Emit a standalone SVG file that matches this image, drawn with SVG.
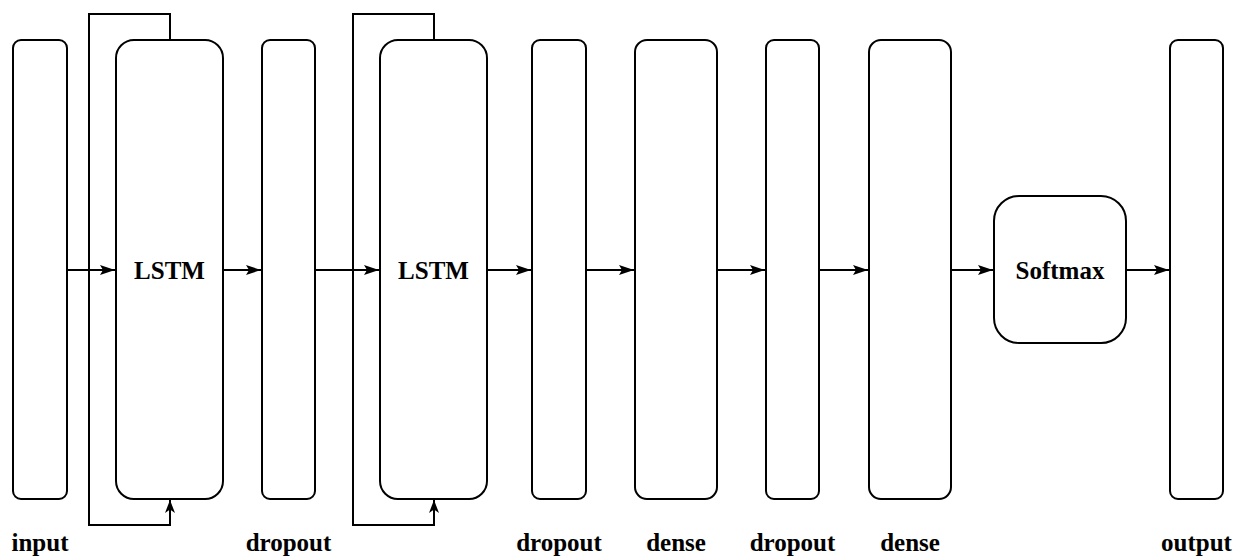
<svg xmlns="http://www.w3.org/2000/svg" width="1249" height="556" viewBox="0 0 1249 556">
<style>
.box{fill:#fff;stroke:#000;stroke-width:2}
.c{fill:none;stroke:#000;stroke-width:2}
.t{font-family:"Liberation Serif","Times New Roman",serif;font-weight:bold;font-size:25px;text-anchor:middle;fill:#000}
</style>
<defs>
<marker id="ah" markerWidth="16" markerHeight="12" refX="15" refY="6" orient="auto" markerUnits="userSpaceOnUse">
<path d="M0,1 L15,6 L0,11 L3,6 Z" fill="#000"/>
</marker>
<marker id="ah2" markerWidth="14" markerHeight="12" refX="13" refY="6" orient="auto" markerUnits="userSpaceOnUse">
<path d="M0,1 L13,6 L0,11 L3.5,6 Z" fill="#000"/>
</marker>
</defs>
<g id="connectors">
<path class="c" d="M170,40 V14 H89 V525 H170 V500" marker-end="url(#ah2)"/>
<path class="c" d="M434,40 V14 H353 V525 H434 V500" marker-end="url(#ah2)"/>
<line class="c" x1="67" y1="270" x2="115" y2="270" marker-end="url(#ah)"/>
<line class="c" x1="223" y1="270" x2="261" y2="270" marker-end="url(#ah)"/>
<line class="c" x1="315" y1="270" x2="379" y2="270" marker-end="url(#ah)"/>
<line class="c" x1="487" y1="270" x2="531" y2="270" marker-end="url(#ah)"/>
<line class="c" x1="586" y1="270" x2="634" y2="270" marker-end="url(#ah)"/>
<line class="c" x1="717" y1="270" x2="765" y2="270" marker-end="url(#ah)"/>
<line class="c" x1="819" y1="270" x2="868" y2="270" marker-end="url(#ah)"/>
<line class="c" x1="951" y1="270" x2="993" y2="270" marker-end="url(#ah)"/>
<line class="c" x1="1126" y1="270" x2="1169" y2="270" marker-end="url(#ah)"/>
</g>
<g id="input"><rect class="box" x="13" y="40" width="54" height="459" rx="8"/><text class="t" x="40" y="551">input</text></g>
<g id="lstm1"><rect class="box" x="116" y="40" width="107" height="459" rx="18"/><text class="t" x="169.5" y="279">LSTM</text></g>
<g id="dropout1"><rect class="box" x="262" y="40" width="53" height="459" rx="8"/><text class="t" x="288.5" y="551">dropout</text></g>
<g id="lstm2"><rect class="box" x="380" y="40" width="107" height="459" rx="18"/><text class="t" x="433.5" y="279">LSTM</text></g>
<g id="dropout2"><rect class="box" x="532" y="40" width="54" height="459" rx="8"/><text class="t" x="559" y="551">dropout</text></g>
<g id="dense1"><rect class="box" x="635" y="40" width="82" height="459" rx="12"/><text class="t" x="676" y="551">dense</text></g>
<g id="dropout3"><rect class="box" x="766" y="40" width="53" height="459" rx="8"/><text class="t" x="792.5" y="551">dropout</text></g>
<g id="dense2"><rect class="box" x="869" y="40" width="82" height="459" rx="12"/><text class="t" x="910" y="551">dense</text></g>
<g id="softmax"><rect class="box" x="994" y="196" width="132" height="147" rx="25"/><text class="t" x="1060" y="279">Softmax</text></g>
<g id="output"><rect class="box" x="1170" y="40" width="53" height="459" rx="8"/><text class="t" x="1196.5" y="551">output</text></g>
</svg>
